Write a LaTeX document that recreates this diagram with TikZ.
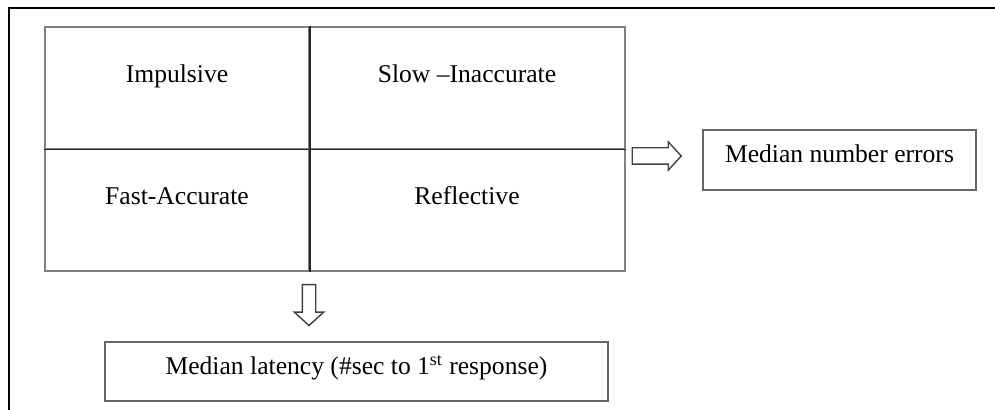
\documentclass[tikz,border=0pt]{standalone}
\usepackage{fontspec}
\setmainfont{Liberation Serif}
\usetikzlibrary{shapes.arrows}

\begin{document}
\begin{tikzpicture}[font=\fontsize{12.8}{15}\selectfont,
  cell/.style={draw=black!50, line width=0.6pt, inner sep=0pt,
    text height=4pt, text depth=9pt, minimum height=61pt},
  outbox/.style={draw=black!60, line width=0.9pt, inner sep=0pt,
    text height=6pt, text depth=3pt},
  blockarrow/.style={single arrow, draw=black!75, line width=0.7pt, fill=white,
    minimum width=0pt, single arrow tip angle=95}]

  \useasboundingbox (0pt,0pt) rectangle (497.5pt,-205pt);
  \draw[line width=1pt] (4.5pt,-205pt) -- (4.5pt,-4pt) -- (497.5pt,-4pt); %% frame

  %% four styles
  \node[cell, minimum width=132pt] (imp)  at ( 88.5pt, -44pt) {Impulsive};
  \node[cell, minimum width=158pt] (slow) at (233.5pt, -44pt) {Slow --Inaccurate};
  \node[cell, minimum width=132pt] (fast) at ( 88.5pt,-105pt) {Fast-Accurate};
  \node[cell, minimum width=158pt] (refl) at (233.5pt,-105pt) {Reflective};

  \draw[line width=0.9pt, black!85] (imp.north east) -- (fast.south east); %% latency split
  \draw[line width=0.9pt, black!85] (imp.south west) -- (slow.south east); %% errors split

  %% measures
  \node[blockarrow, minimum height=20.5pt, inner sep=3pt,
    single arrow head extend=4pt, shape border rotate=270] (down) at (154.5pt,-151pt) {};
  \node[blockarrow, minimum height=24.5pt, inner sep=3.75pt,
    single arrow head extend=3pt] (right) at (326.5pt,-78pt) {};

  \node[outbox, minimum width=251.5pt, minimum height=29.5pt] (lat) at (178.25pt,-185.75pt)
    {Median latency (\#sec to 1\textsuperscript{st} response)};
  \node[outbox, minimum width=136.5pt, minimum height=30pt] (err) at (419.75pt,-80pt)
    {Median number errors};

\end{tikzpicture}
\end{document}
